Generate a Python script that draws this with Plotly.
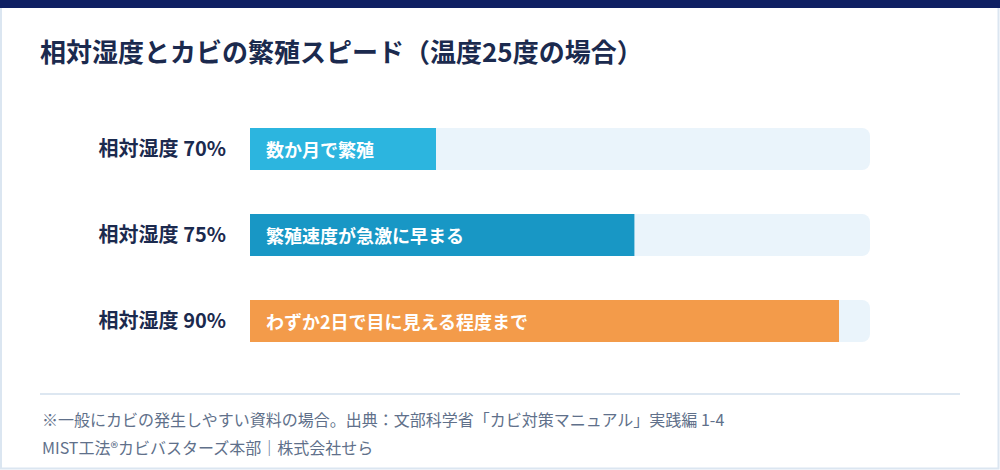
import plotly.graph_objects as go

# data
categories = ["相対湿度 70%", "相対湿度 75%", "相対湿度 90%"]
values = [30, 62, 95]
bar_labels = ["数か月で繁殖", "繁殖速度が急激に早まる", "わずか2日で目に見える程度まで"]
track = [100, 100, 100]
bar_colors = ["#2cb5df", "#1897c5", "#f39b4a"]

title = "相対湿度とカビの繁殖スピード（温度25度の場合）"
note1 = "※一般にカビの発生しやすい資料の場合。出典：文部科学省「カビ対策マニュアル」実践編 1-4"
note2 = "MIST工法®カビバスターズ本部｜株式会社せら"

FONT = "Noto Sans CJK JP"
W, H = 1000, 470
ML, MR, MT, MB = 250, 130, 106, 106
PW, PH = W - ML - MR, H - MT - MB


def px(x):
    return (x - ML) / PW


def py(y):
    return (H - MB - y) / PH


fig = go.Figure()
fig.add_trace(go.Bar(
    y=categories, x=track, orientation="h",
    marker=dict(color="#eaf4fb", cornerradius=8, line=dict(width=0)),
    width=0.49, hoverinfo="skip", showlegend=False,
))
fig.add_trace(go.Bar(
    y=categories, x=values, orientation="h",
    marker=dict(color=bar_colors, cornerradius=8, line=dict(width=0)),
    width=0.49, showlegend=False,
))

# labels inside bars
for cat, lab in zip(categories, bar_labels):
    fig.add_annotation(x=0, y=cat, xref="x", yref="y", text=lab, showarrow=False,
                       xanchor="left", xshift=14,
                       font=dict(family=FONT, size=18, color="white", weight="bold"))

shapes = [
    # card border
    dict(type="rect", xref="paper", yref="paper", x0=px(1), x1=px(998.5), y0=py(468.5), y1=py(6),
         line=dict(color="#dbe6f1", width=2), fillcolor="rgba(0,0,0,0)", layer="below"),
    # top navy band
    dict(type="rect", xref="paper", yref="paper", x0=px(0), x1=px(1000), y0=py(8), y1=py(0),
         line=dict(width=0), fillcolor="#0f2063"),
    # divider
    dict(type="line", xref="paper", yref="paper", x0=px(40), x1=px(960), y0=py(394), y1=py(394),
         line=dict(color="#dde7f1", width=2)),
]

fig.add_annotation(xref="paper", yref="paper", x=px(40), y=py(419), text=note1, showarrow=False,
                   xanchor="left", yanchor="middle", font=dict(family=FONT, size=16, color="#60708a"))
fig.add_annotation(xref="paper", yref="paper", x=px(40), y=py(447), text=note2, showarrow=False,
                   xanchor="left", yanchor="middle", font=dict(family=FONT, size=16, color="#60708a"))

fig.update_layout(
    width=W, height=H,
    margin=dict(l=ML, r=MR, t=MT, b=MB),
    paper_bgcolor="white", plot_bgcolor="white",
    barmode="overlay",
    shapes=shapes,
    title=dict(text=title, x=40 / W, xanchor="left", xref="container",
               y=1 - 53 / H, yanchor="middle", yref="container",
               font=dict(family=FONT, size=26, color="#1b2a4e", weight="bold")),
    xaxis=dict(range=[0, 100], visible=False, fixedrange=True),
    yaxis=dict(categoryorder="array", categoryarray=categories, autorange="reversed",
               showgrid=False, zeroline=False, showline=False, ticks="",
               ticklabelstandoff=23,
               tickfont=dict(family=FONT, size=20, color="#1b2a4e", weight="bold")),
    font=dict(family=FONT),
)

fig.write_html("out.html", config={"displayModeBar": False},
               post_script="document.body.style.margin='0';")
